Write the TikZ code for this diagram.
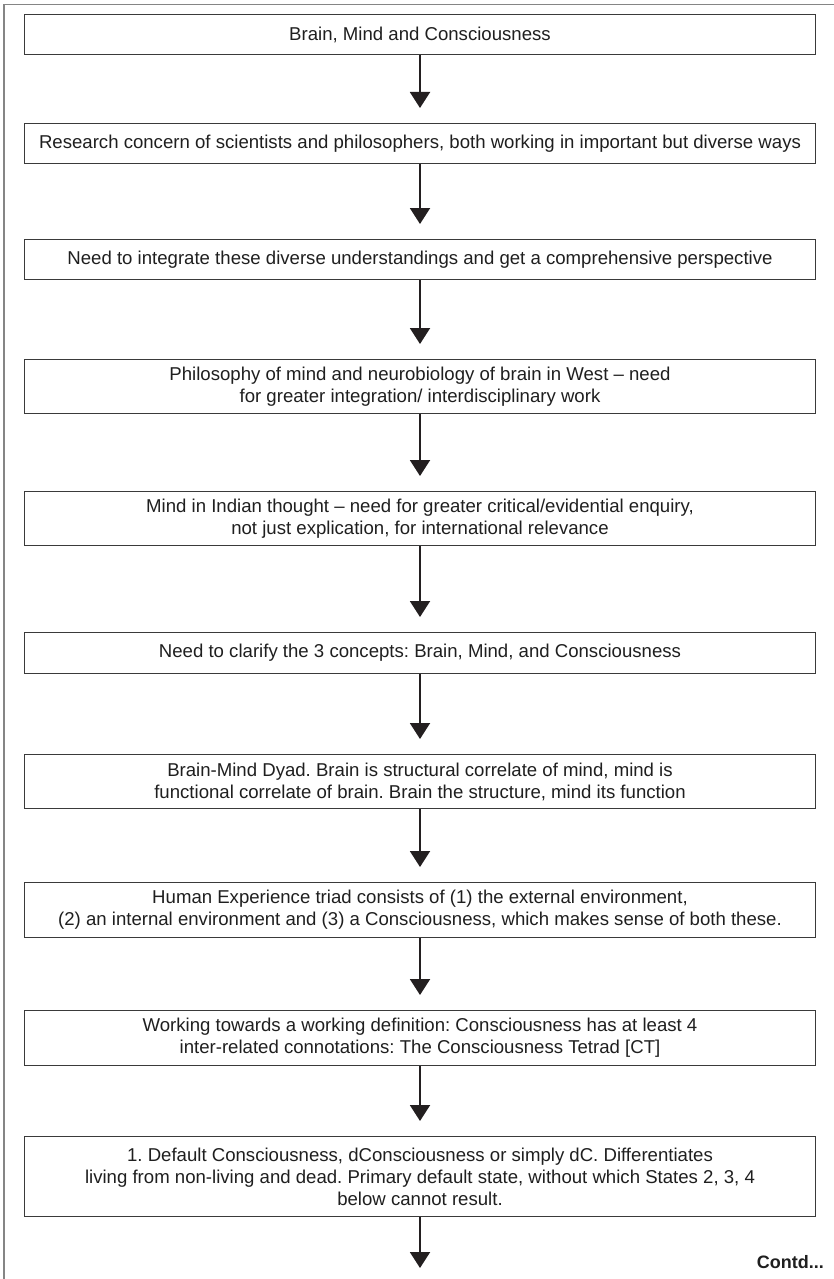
\documentclass[tikz,border=0pt]{standalone}
\usepackage{fontspec}
\setmainfont{Liberation Sans}
\usetikzlibrary{arrows.meta}
\definecolor{boxline}{HTML}{3A3A3A}
\definecolor{arrowc}{HTML}{231F20}
\definecolor{frameline}{HTML}{858585}
\frenchspacing
\tikzset{
  box/.style={draw=boxline, line width=1.3pt, fill=white, minimum width=791pt,
    inner sep=0pt, align=center, anchor=north, text=black!88,
    font=\fontsize{18.6}{22}\selectfont\frenchspacing},
  flowarrow/.style={draw=arrowc, line width=2pt,
    -{Triangle[width=20pt,length=16pt]}, shorten >=0pt},
  frame/.style={draw=frameline, line width=1.2pt}
}
\begin{document}
\begin{tikzpicture}[x=1pt,y=1pt]
\useasboundingbox (0,0) rectangle (834,-1279);
\fill[white] (0,0) rectangle (834,-1279);
% outer frame (top and left)
\coordinate (ftl) at (4,-4.5);
\coordinate (ftr) at (834,-4.5);
\coordinate (fbl) at (4,-1279);
\draw[frame] (ftr) -- (ftl) -- (fbl);

\node[box, minimum height=40pt] (b1) at (420,-14) {Brain, Mind and Consciousness};
\node[box, minimum height=40pt] (b2) at (420,-123) {Research concern of scientists and philosophers, both working in important but diverse ways};
\node[box, minimum height=40pt] (b3) at (420,-239) {Need to integrate these diverse understandings and get a comprehensive perspective};
\node[box, minimum height=54pt] (b4) at (420,-359) {Philosophy of mind and neurobiology of brain in West \textendash{} need\\for greater integration/ interdisciplinary work};
\node[box, minimum height=54pt] (b5) at (420,-491) {Mind in Indian thought \textendash{} need for greater critical/evidential enquiry,\\not just explication, for international relevance};
\node[box, minimum height=41pt] (b6) at (420,-632) {Need to clarify the 3 concepts: Brain, Mind, and Consciousness};
\node[box, minimum height=54pt] (b7) at (420,-754) {Brain-Mind Dyad. Brain is structural correlate of mind, mind is\\functional correlate of brain. Brain the structure, mind its function};
\node[box, minimum height=55pt] (b8) at (420,-882) {Human Experience triad consists of (1) the external environment,\\(2) an internal environment and (3) a Consciousness, which makes sense of both these.};
\node[box, minimum height=55pt] (b9) at (420,-1010) {Working towards a working definition: Consciousness has at least 4\\inter-related connotations: The Consciousness Tetrad [CT]};
\node[box, minimum height=80pt] (b10) at (420,-1136) {1. Default Consciousness, dConsciousness or simply dC. Differentiates\\living from non-living and dead. Primary default state, without which States 2, 3, 4\\below cannot result.};

\coordinate (endtip) at (420,-1268);
\node[anchor=east, font=\fontsize{18}{22}\selectfont\bfseries\frenchspacing, text=black!88, inner sep=0pt] (contd) at (824,-1262) {Contd...};

\draw[flowarrow] (b1.south) -- ([yshift=15pt]b2.north);
\draw[flowarrow] (b2.south) -- ([yshift=15pt]b3.north);
\draw[flowarrow] (b3.south) -- ([yshift=15pt]b4.north);
\draw[flowarrow] (b4.south) -- ([yshift=15pt]b5.north);
\draw[flowarrow] (b5.south) -- ([yshift=15pt]b6.north);
\draw[flowarrow] (b6.south) -- ([yshift=15pt]b7.north);
\draw[flowarrow] (b7.south) -- ([yshift=15pt]b8.north);
\draw[flowarrow] (b8.south) -- ([yshift=15pt]b9.north);
\draw[flowarrow] (b9.south) -- ([yshift=15pt]b10.north);
\draw[flowarrow] (b10.south) -- (endtip);
\end{tikzpicture}
\end{document}
